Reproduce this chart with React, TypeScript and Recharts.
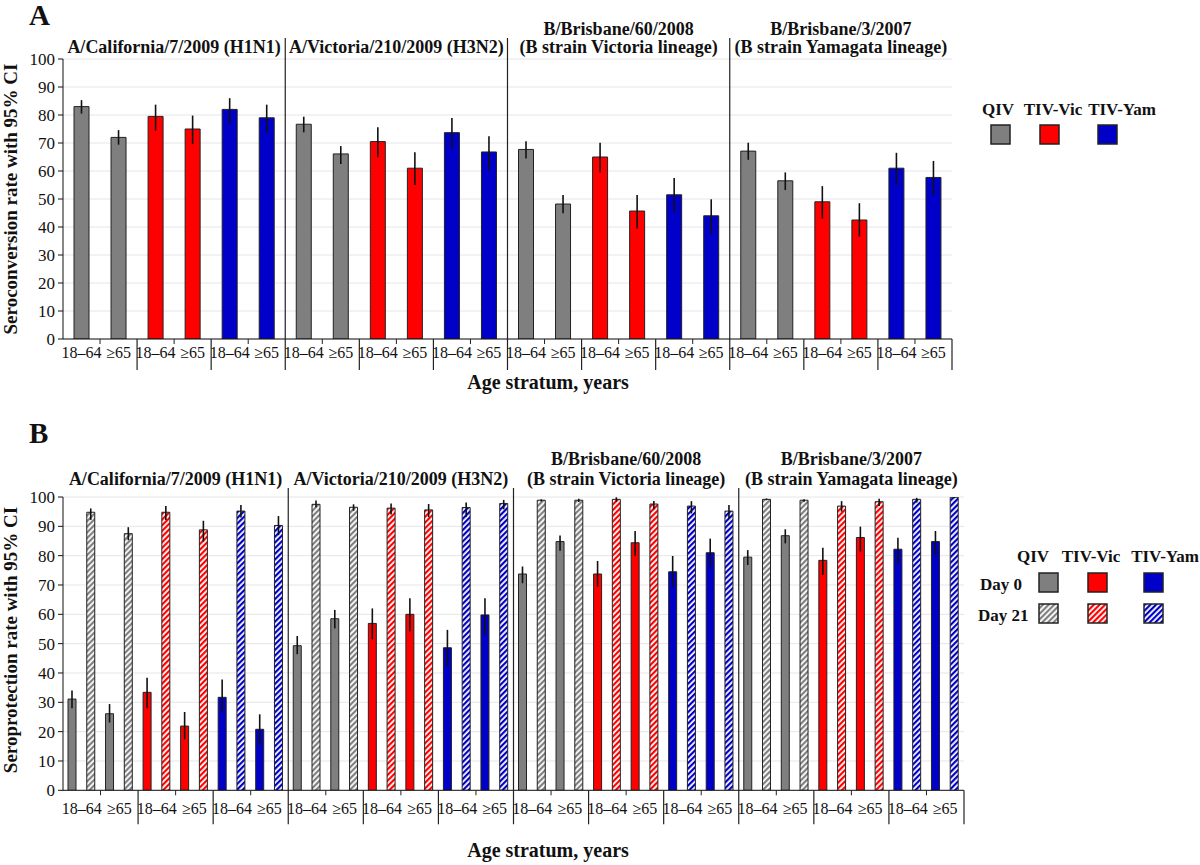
import React from 'react';
import { BarChart, Bar, XAxis, YAxis, CartesianGrid, ErrorBar, Cell } from 'recharts';

const FONT = '"Liberation Serif", "Times New Roman", serif';

const strainTitles: string[][] = [
  ['A/California/7/2009 (H1N1)'],
  ['A/Victoria/210/2009 (H3N2)'],
  ['B/Brisbane/60/2008', '(B strain Victoria lineage)'],
  ['B/Brisbane/3/2007', '(B strain Yamagata lineage)'],
];
const vaccineNames = ['QIV', 'TIV-Vic', 'TIV-Yam'];
const ageLabels = ['18\u201364', '\u226565'];
const yTicks = [0, 10, 20, 30, 40, 50, 60, 70, 80, 90, 100];
const vaccineColors = ['#7f7f7f', '#ff0000', '#0000c8'];
const hatchIds = ['hatch-gray', 'hatch-red', 'hatch-blue'];

// Panel A: seroconversion rate (%) and 95% CI, order: strain > vaccine > age
const seroconversion = [
  83, 72, 79.5, 75, 82, 79,
  76.7, 66.1, 70.5, 61, 73.7, 66.8,
  67.7, 48.2, 65, 45.7, 51.5, 44,
  67.1, 56.5, 49, 42.5, 61, 57.7,
];
const seroconversionLow = [
  80.5, 69.4, 74.4, 69.6, 76.8, 73.5,
  73.8, 62.5, 64.9, 55, 68.1, 60.4,
  64.5, 44.9, 59.5, 39.5, 45.3, 37.7,
  64, 53.2, 43, 36.5, 55, 51.4,
];
const seroconversionHigh = [
  85.3, 74.6, 83.7, 79.8, 86, 83.7,
  79.4, 68.9, 75.6, 66.7, 78.9, 72.4,
  70.6, 51.4, 70.1, 51.4, 57.5, 49.9,
  70.1, 59.5, 54.6, 48.5, 66.5, 63.6,
];

// Panel B: seroprotection rate (%) at Day 0 and Day 21 with 95% CI
const day0 = [
  31.1, 26.1, 33.4, 21.9, 31.7, 20.8,
  49.3, 58.5, 56.9, 60, 48.6, 59.8,
  73.75, 84.8, 73.75, 84.4, 74.5, 81,
  79.5, 86.8, 78.4, 86.2, 82.2, 84.8,
];
const day0Low = [
  28, 23.1, 28, 17.4, 26.5, 15.5,
  46.4, 55.2, 51.5, 54.1, 42.4, 53.2,
  70.6, 81.7, 69.4, 79.9, 69.2, 76.3,
  76.8, 84.2, 73.4, 81.4, 77.2, 79.9,
];
const day0High = [
  34, 29.4, 38.4, 26.7, 37.8, 25.9,
  52.6, 61.5, 62, 65.5, 54.7, 65.5,
  76.3, 86.9, 78.2, 88.4, 79.9, 85.8,
  81.9, 89, 82.7, 89.9, 86.1, 88.4,
];
const day21 = [
  94.8, 87.5, 94.8, 88.8, 95.2, 90.3,
  97.5, 96.5, 96.2, 95.6, 96.4, 97.8,
  98.9, 98.9, 99.2, 97.6, 96.9, 95.2,
  99.2, 98.9, 96.9, 98.4, 99.2, 99.9,
];
const day21Low = [
  92.2, 85.3, 92.2, 84.8, 93, 87,
  96.5, 95.3, 94, 93.1, 93.3, 95.8,
  98.5, 98.3, 98.4, 95.8, 94.4, 92.7,
  98.9, 98.4, 95, 96.9, 98.1, 99.6,
];
const day21High = [
  96.1, 89.7, 96.9, 91.9, 97.3, 93.5,
  98.8, 97.5, 97.8, 97.6, 98.1, 99,
  99.2, 99.4, 99.9, 98.6, 98.6, 97.3,
  99.5, 99.2, 98.6, 99.4, 99.7, 100,
];

const categories = strainTitles.flatMap((_, s) =>
  vaccineNames.flatMap((__, v) => ageLabels.map((___, a) => ({ id: `${s}-${v}-${a}`, strain: s, vaccine: v, age: a })))
);

const dataA = categories.map((c, i) => ({
  ...c,
  value: seroconversion[i],
  err: [seroconversion[i] - seroconversionLow[i], seroconversionHigh[i] - seroconversion[i]],
}));

const dataB = categories.map((c, i) => ({
  ...c,
  d0: day0[i],
  d0err: [day0[i] - day0Low[i], day0High[i] - day0[i]],
  d21: day21[i],
  d21err: [day21[i] - day21Low[i], day21High[i] - day21[i]],
}));

type TickCfg = {
  plotW: number;
  plotH: number;
  labelDy: number;
  sepBelow: number;
  dividerAbove: number;
  titleOne: number;
  titleTwo: number;
};

const TICK_FS = 16;
const TITLE_FS = 18;

const makeTick = (cfg: TickCfg) => (props: any) => {
  const { x, y, payload } = props;
  const i = categories.findIndex((c) => c.id === payload.value);
  if (i < 0) return <g />;
  const c = categories[i];
  const n = categories.length;
  const half = cfg.plotW / n / 2;
  const rx = x + half;
  const top = y - cfg.plotH;
  const els: any[] = [];
  els.push(
    <text key="l" x={x} y={y + cfg.labelDy} textAnchor="middle" fontSize={TICK_FS} fill="#111" fontFamily={FONT}>
      {ageLabels[c.age]}
    </text>
  );
  if (c.age === 0) {
    els.push(<line key="t" x1={rx} x2={rx} y1={y} y2={y + 5} stroke="#222" strokeWidth={1} />);
  } else {
    const endOfStrain = c.vaccine === 2;
    const y1 = endOfStrain && i !== n - 1 ? top - cfg.dividerAbove : y;
    els.push(<line key="s" x1={rx} x2={rx} y1={y1} y2={y + cfg.sepBelow} stroke="#222" strokeWidth={1.2} />);
  }
  if (c.vaccine === 1 && c.age === 0) {
    const lines = strainTitles[c.strain];
    const sx = x + half;
    if (lines.length === 1) {
      els.push(
        <text key="h1" x={sx} y={top - cfg.titleOne} textAnchor="middle" fontSize={TITLE_FS} fontWeight="bold" fill="#111" fontFamily={FONT}>
          {lines[0]}
        </text>
      );
    } else {
      els.push(
        <text key="h1" x={sx} y={top - cfg.titleTwo} textAnchor="middle" fontSize={TITLE_FS} fontWeight="bold" fill="#111" fontFamily={FONT}>
          {lines[0]}
        </text>
      );
      els.push(
        <text key="h2" x={sx} y={top - cfg.titleOne} textAnchor="middle" fontSize={TITLE_FS} fontWeight="bold" fill="#111" fontFamily={FONT}>
          {lines[1]}
        </text>
      );
    }
  }
  return <g>{els}</g>;
};

const tickA = makeTick({ plotW: 889, plotH: 280, labelDy: 19, sepBelow: 31, dividerAbove: 21, titleOne: 6, titleTwo: 24.5 });
const tickB = makeTick({ plotW: 901, plotH: 293.3, labelDy: 24, sepBelow: 34, dividerAbove: 9, titleOne: 12, titleTwo: 32 });

const yTickStyle = { fontSize: 17, fill: '#111', fontFamily: FONT };

function Overlay() {
  return (
    <svg width={1200} height={865} style={{ position: 'absolute', left: 0, top: 0, pointerEvents: 'none' }}>
      <defs>
        {hatchIds.map((id, k) => (
          <pattern key={id} id={id} patternUnits="userSpaceOnUse" width={4} height={4} patternTransform="rotate(45)">
            <rect width={4} height={4} fill="#ffffff" />
            <rect width={2.2} height={4} fill={vaccineColors[k]} />
          </pattern>
        ))}
      </defs>
      <g fontFamily={FONT} fill="#111">
        <text x={29} y={25} fontSize={29} fontWeight="bold">A</text>
        <text x={29} y={443} fontSize={29} fontWeight="bold">B</text>
        <text transform="translate(17,199) rotate(-90)" textAnchor="middle" fontSize={19} fontWeight="bold">
          Seroconversion rate with 95% CI
        </text>
        <text transform="translate(17,640) rotate(-90)" textAnchor="middle" fontSize={19} fontWeight="bold">
          Seroprotection rate with 95% CI
        </text>
        <text x={548} y={389} textAnchor="middle" fontSize={20} fontWeight="bold">Age stratum, years</text>
        <text x={548} y={857} textAnchor="middle" fontSize={20} fontWeight="bold">Age stratum, years</text>
        {/* Legend A */}
        {vaccineNames.map((v, k) => (
          <text key={'la' + v} x={[998, 1053, 1122][k]} y={115} textAnchor="middle" fontSize={17} fontWeight="bold">{v}</text>
        ))}
        {vaccineNames.map((v, k) => (
          <rect key={'ra' + v} x={[991, 1040, 1098][k]} y={125} width={19} height={19} fill={vaccineColors[k]} stroke="#222" strokeWidth={1.5} />
        ))}
        {/* Legend B */}
        {vaccineNames.map((v, k) => (
          <text key={'lb' + v} x={[1033, 1091, 1165][k]} y={562} textAnchor="middle" fontSize={17} fontWeight="bold">{v}</text>
        ))}
        <text x={980} y={590} fontSize={17} fontWeight="bold">Day 0</text>
        <text x={978} y={621} fontSize={17} fontWeight="bold">Day 21</text>
        {vaccineNames.map((v, k) => (
          <rect key={'rb0' + v} x={[1039, 1088, 1144][k]} y={573} width={19} height={19} fill={vaccineColors[k]} stroke="#222" strokeWidth={1.5} />
        ))}
        {vaccineNames.map((v, k) => (
          <rect key={'rb21' + v} x={[1039, 1088, 1144][k]} y={604} width={19} height={19} fill={`url(#${hatchIds[k]})`} stroke="#222" strokeWidth={1.5} />
        ))}
      </g>
    </svg>
  );
}

export default function App() {
  return (
    <div style={{ position: 'absolute', left: 0, top: 0, width: 1200, height: 865, background: '#fff', fontFamily: FONT }}>
      <Overlay />
      <div style={{ position: 'absolute', left: 0, top: 0 }}>
        <BarChart width={1200} height={400} data={dataA} margin={{ top: 59, right: 248, bottom: 21, left: 23 }}>
          <CartesianGrid vertical={false} stroke="#e6e6e6" />
          <XAxis dataKey="id" type="category" interval={0} height={40} tickSize={0} tickMargin={0} tick={tickA} axisLine={{ stroke: '#111' }} tickLine={false} />
          <YAxis type="number" domain={[0, 100]} ticks={yTicks} interval={0} width={40} tickSize={5} tickMargin={3} tick={yTickStyle} axisLine={{ stroke: '#111' }} tickLine={{ stroke: '#111' }} allowDataOverflow />
          <Bar dataKey="value" barSize={15} stroke="#222" strokeWidth={1} isAnimationActive={false}>
            {dataA.map((d) => (
              <Cell key={d.id} fill={vaccineColors[d.vaccine]} />
            ))}
            <ErrorBar dataKey="err" width={0} stroke="#111" strokeWidth={1.6} direction="y" isAnimationActive={false} />
          </Bar>
        </BarChart>
      </div>
      <div style={{ position: 'absolute', left: 0, top: 420 }}>
        <BarChart width={1200} height={445} data={dataB} margin={{ top: 77, right: 236, bottom: 34.7, left: 23 }} barGap={10.75}>
          <CartesianGrid vertical={false} stroke="#e6e6e6" />
          <XAxis dataKey="id" type="category" interval={0} height={40} tickSize={0} tickMargin={0} tick={tickB} axisLine={{ stroke: '#111' }} tickLine={false} />
          <YAxis type="number" domain={[0, 100]} ticks={yTicks} interval={0} width={40} tickSize={5} tickMargin={3} tick={yTickStyle} axisLine={{ stroke: '#111' }} tickLine={{ stroke: '#111' }} allowDataOverflow />
          <Bar dataKey="d0" barSize={8} stroke="#222" strokeWidth={1} isAnimationActive={false}>
            {dataB.map((d) => (
              <Cell key={d.id} fill={vaccineColors[d.vaccine]} />
            ))}
            <ErrorBar dataKey="d0err" width={0} stroke="#111" strokeWidth={1.6} direction="y" isAnimationActive={false} />
          </Bar>
          <Bar dataKey="d21" barSize={8} stroke="#222" strokeWidth={1} isAnimationActive={false}>
            {dataB.map((d) => (
              <Cell key={d.id} fill={`url(#${hatchIds[d.vaccine]})`} />
            ))}
            <ErrorBar dataKey="d21err" width={0} stroke="#111" strokeWidth={1.6} direction="y" isAnimationActive={false} />
          </Bar>
        </BarChart>
      </div>
    </div>
  );
}
